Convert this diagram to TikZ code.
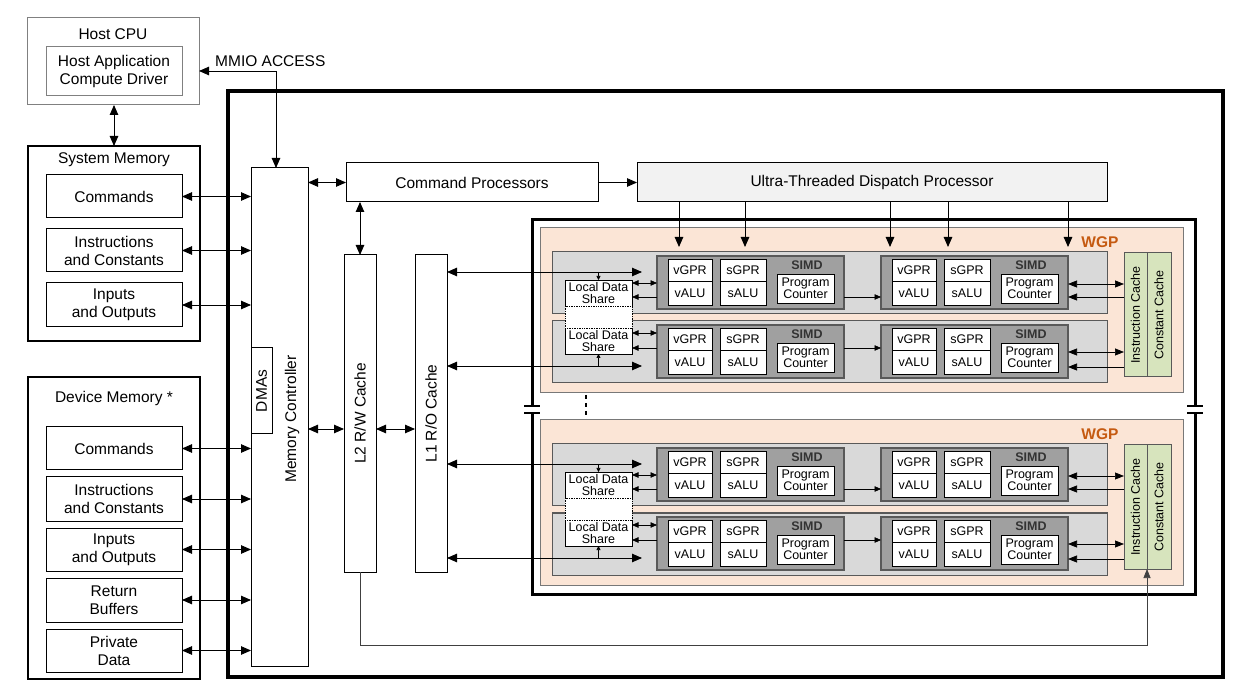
\documentclass[tikz,border=0pt]{standalone}
\usepackage{fontspec}
\setmainfont{Liberation Sans}
\usetikzlibrary{arrows.meta}

\definecolor{wgpfill}{RGB}{251,229,214}
\definecolor{wgpedge}{RGB}{120,120,120}
\definecolor{cufill}{RGB}{217,217,217}
\definecolor{cuedge}{RGB}{89,89,89}
\definecolor{simdfill}{RGB}{160,160,160}
\definecolor{cachefill}{RGB}{215,228,189}
\definecolor{wgptext}{RGB}{197,90,17}
\definecolor{utdpfill}{RGB}{242,242,242}

\tikzset{
	sz/.style 2 args={minimum width=#1pt, minimum height=#2pt, anchor=north west},
	blk/.style={draw, line width=1pt, fill=white, inner sep=0pt, outer sep=0pt, align=center, font=\fontsize{15.5}{18}\selectfont},
	smallblk/.style={blk, line width=0.8pt, font=\fontsize{12.5}{12.5}\selectfont},
	lbl/.style={inner sep=0pt, font=\fontsize{15.5}{18}\selectfont},
	wgpbox/.style={draw=wgpedge, line width=1pt, fill=wgpfill, inner sep=0pt, outer sep=0pt},
	cubox/.style={draw=cuedge, line width=1pt, fill=cufill, inner sep=0pt, outer sep=0pt},
	simdbox/.style={draw=cuedge, line width=1.6pt, fill=simdfill, inner sep=0pt, outer sep=0pt},
	cachebox/.style={draw=cuedge, line width=1pt, fill=cachefill, inner sep=0pt, outer sep=0pt},
	bigarr/.style={line width=0.9pt, -{Triangle[length=10pt,width=8.5pt]}},
	bigdbl/.style={line width=0.9pt, {Triangle[length=10pt,width=8.5pt]}-{Triangle[length=10pt,width=8.5pt]}},
	medarr/.style={line width=0.7pt, -{Triangle[length=9pt,width=7pt]}},
	meddbl/.style={line width=0.7pt, {Triangle[length=9pt,width=7pt]}-{Triangle[length=9pt,width=7pt]}},
	smarr/.style={line width=0.7pt, -{Triangle[length=6.5pt,width=5.5pt]}},
	smdbl/.style={line width=0.7pt, {Triangle[length=6.5pt,width=5.5pt]}-{Triangle[length=6.5pt,width=5.5pt]}},
	tickarr/.style={line width=0.6pt, -{Triangle[length=4pt,width=4pt]}},
}

\begin{document}
\begin{tikzpicture}[x=1pt, y=-1pt]
	\useasboundingbox (0,0) rectangle (1243,700);

	% host
	\node[blk, sz={172}{87}, draw=gray] (host) at (27,18) {};
	\node[lbl] (hostlbl) at (113,34) {Host CPU};
	\node[blk, sz={136}{49}, draw=gray] (hostapp) at (46,47) {Host Application\\Compute Driver};

	% system memory
	\node[blk, sz={172}{195}, line width=1.8pt] (sysmem) at (28,146) {};
	\node[lbl] (sysmemlbl) at (114,160) {System Memory};
	\node[blk, sz={136}{43}] (syscmd) at (46,175) {Commands};
	\node[blk, sz={136}{43}] (sysins) at (46,229) {Instructions\\and Constants};
	\node[blk, sz={136}{44}] (sysio) at (46,283) {Inputs\\and Outputs};

	% device memory
	\node[blk, sz={172}{302}, line width=1.8pt] (devmem) at (28,377) {};
	\node[lbl] (devmemlbl) at (114,398) {Device Memory *};
	\node[blk, sz={136}{43}] (devcmd) at (46,427) {Commands};
	\node[blk, sz={136}{44}] (devins) at (46,477) {Instructions\\and Constants};
	\node[blk, sz={136}{43}] (devio) at (46,528) {Inputs\\and Outputs};
	\node[blk, sz={136}{44}] (devret) at (46,578) {Return\\Buffers};
	\node[blk, sz={136}{43}] (devpriv) at (46,629) {Private\\Data};

	% gpu frame
	\draw[line width=4pt] (228,91) rectangle (1223,677);

	\node[blk, sz={57}{498}] (mc) at (251,168) {};
	\node[lbl, rotate=90] (mclbl) at (292,419) {Memory Controller};
	\node[blk, sz={21}{86}] (dma) at (251,348) {};
	\node[lbl, rotate=90] (dmalbl) at (dma.center) {DMAs};

	\node[blk, sz={252}{39}] (cp) at (346,163) {Command Processors};
	\node[blk, sz={470}{39}, fill=utdpfill] (utdp) at (637,163) {Ultra-Threaded Dispatch Processor};

	\node[blk, sz={32}{317}] (l2) at (344,255) {};
	\node[lbl, rotate=90] (l2lbl) at (l2.center) {L2 R/W Cache};
	\node[blk, sz={32}{317}] (l1) at (415,255) {};
	\node[lbl, rotate=90] (l1lbl) at (l1.center) {L1 R/O Cache};

	% compute array frame (broken on both sides)
	\draw[line width=3pt] (532,406) -- (532,220) -- (1195,220) -- (1195,406);
	\draw[line width=3pt] (532,413) -- (532,594) -- (1195,594) -- (1195,413);
	\foreach \x in {532,1195} {
		\draw[line width=1.2pt] (\x-8,406) -- (\x+8,406);
		\draw[line width=1.2pt] (\x-8,413) -- (\x+8,413);
	}
	\draw[line width=2pt, dash pattern=on 4pt off 4pt] (586,395) -- (586,419);

	% work group processors
	\foreach \w in {0,1} {
	\begin{scope}[shift={(0,192*\w)}]
		\node[wgpbox, sz={643}{165}] (wgp\w) at (540,228) {};
		\node[inner sep=0pt, text=wgptext, font=\fontsize{15.5}{18}\selectfont\bfseries] (wgplbl\w) at (1100,242) {WGP};

		\foreach \c in {0,1} {
			\node[cubox, sz={555}{62}] (cu\w\c) at (552,252+69*\c) {};
			\foreach \s in {0,1} {
				\node[simdbox, sz={187}{53}] (simd\w\c\s) at (657+224*\s,256+69*\c) {};
				\node[smallblk, sz={44}{22}] (vgpr\w\c\s) at ([shift={(11,3)}]simd\w\c\s.north west) {vGPR};
				\node[smallblk, sz={44}{24}, anchor=north] (valu\w\c\s) at (vgpr\w\c\s.south) {vALU};
				\node[smallblk, sz={46}{22}] (sgpr\w\c\s) at ([shift={(63,3)}]simd\w\c\s.north west) {sGPR};
				\node[smallblk, sz={46}{24}, anchor=north] (salu\w\c\s) at (sgpr\w\c\s.south) {sALU};
				\node[smallblk, sz={57}{29}, font=\fontsize{12.5}{12}\selectfont] (pc\w\c\s) at ([shift={(120,18)}]simd\w\c\s.north west) {Program\\Counter};
				\node[inner sep=0pt, text=black!80, font=\fontsize{12.5}{14}\selectfont\bfseries] (simdlbl\w\c\s) at ([shift={(150,9)}]simd\w\c\s.north west) {SIMD};
			}
		}

		% local data share
		\fill[white] (565,280) rectangle (632,354);
		\draw[line width=0.7pt, densely dotted] (565,306) rectangle (632,328);
		\node[smallblk, draw=none, fill=none, sz={67}{26}] (ldsU\w) at (565,280) {Local Data\\Share};
		\node[smallblk, draw=none, fill=none, sz={67}{26}] (ldsL\w) at (565,328) {Local Data\\Share};
		\draw[line width=0.8pt] (ldsU\w.south west) -- (ldsU\w.north west) -- (ldsU\w.north east) -- (ldsU\w.south east);
		\draw[line width=0.8pt] (ldsL\w.north west) -- (ldsL\w.south west) -- (ldsL\w.south east) -- (ldsL\w.north east);

		% caches
		\node[cachebox, sz={23}{124}] (ic\w) at (1124,253) {};
		\node[inner sep=0pt, rotate=90, font=\fontsize{12.5}{14}\selectfont] (iclbl\w) at (ic\w.center) {Instruction Cache};
		\node[cachebox, sz={24}{124}] (cc\w) at (1147,253) {};
		\node[inner sep=0pt, rotate=90, font=\fontsize{12.5}{14}\selectfont] (cclbl\w) at (cc\w.center) {Constant Cache};

		% upper compute unit
		\coordinate (l1in\w0) at (642,272);
		\draw[bigdbl] (l1.east |- l1in\w0) -- (l1in\w0);
		\draw[tickarr] (ldsU\w.north |- l1in\w0) -- (ldsU\w.north);
		\draw[smdbl] (ldsU\w.east |- 0,283) -- (simd\w00.west |- 0,283);
		\draw[smarr] (simd\w00.west |- 0,297) -- (ldsU\w.east |- 0,297);
		\draw[smarr] (simd\w00.east |- 0,297) -- (simd\w01.west |- 0,297);
		\draw[meddbl] (simd\w01.east |- 0,284) -- (ic\w.west |- 0,284);
		\draw[medarr] (ic\w.west |- 0,297) -- (simd\w01.east |- 0,297);

		% lower compute unit
		\coordinate (l1in\w1) at (642,366);
		\draw[bigdbl] (l1.east |- l1in\w1) -- (l1in\w1);
		\draw[tickarr] (ldsL\w.south |- l1in\w1) -- (ldsL\w.south);
		\draw[smdbl] (ldsL\w.east |- 0,333) -- (simd\w10.west |- 0,333);
		\draw[smarr] (simd\w10.west |- 0,348) -- (ldsL\w.east |- 0,348);
		\draw[smarr] (simd\w10.east |- 0,348) -- (simd\w11.west |- 0,348);
		\draw[meddbl] (simd\w11.east |- 0,352) -- (ic\w.west |- 0,352);
		\draw[medarr] (ic\w.west |- 0,367) -- (simd\w11.east |- 0,367);
	\end{scope}
	}

	% connections
	\draw[bigdbl] (host.south -| sysmem.north) -- (sysmem.north);
	\coordinate (mmio) at (276,71);
	\draw[bigdbl] (host.east |- mmio) -- (mmio) -- (mc.north -| mmio);
	\node[lbl, anchor=base west] (mmiolbl) at (215,67) {MMIO ACCESS};

	\foreach \m in {syscmd,sysins,sysio,devcmd,devins,devio,devret,devpriv}
		\draw[bigdbl] (\m.east) -- (\m.east -| mc.west);

	\draw[bigdbl] (mc.east |- cp.west) -- (cp.west);
	\draw[bigarr] (cp.east) -- (utdp.west);
	\draw[bigdbl] (cp.south -| l2.north) -- (l2.north);

	\coordinate (bus) at (0,429);
	\draw[bigdbl] (mc.east |- bus) -- (l2.west |- bus);
	\draw[bigdbl] (l2.east |- bus) -- (l1.west |- bus);

	\foreach \x [count=\i] in {679,745,890,948,1068} {
		\coordinate (disp\i) at (\x,247);
		\draw[bigarr] (utdp.south -| disp\i) -- (disp\i);
	}

	\draw[medarr, draw=black!75] (l2.south) -- (l2.south |- 0,645) -- (ic1.south east |- 0,645) -- (ic1.south east);
\end{tikzpicture}
\end{document}
